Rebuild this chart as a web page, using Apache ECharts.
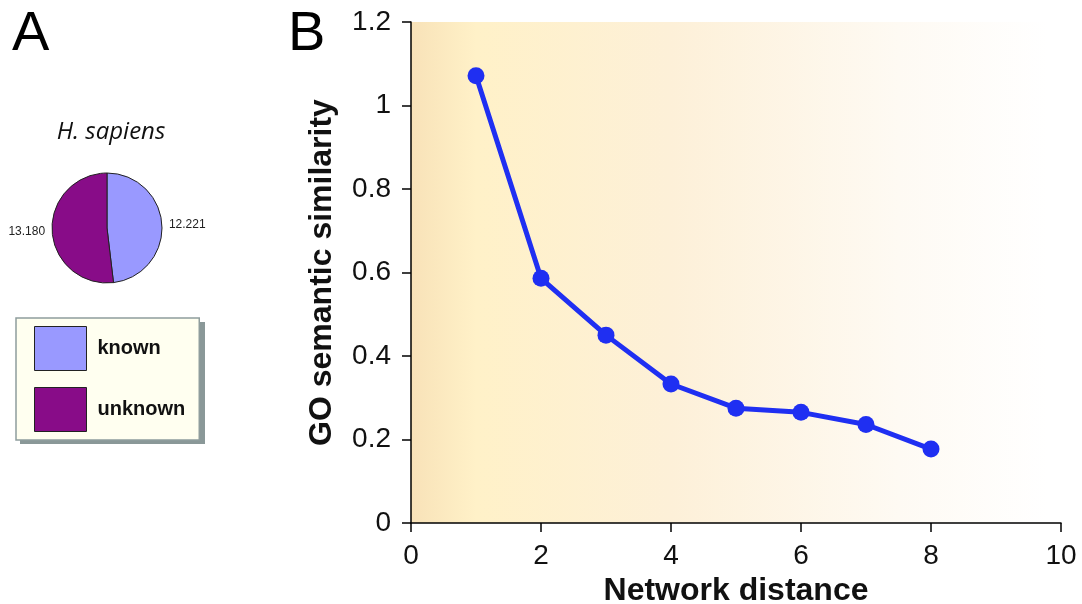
<!DOCTYPE html>
<html>
<head>
<meta charset="utf-8">
<script src="https://cdn.jsdelivr.net/npm/echarts@6/dist/echarts.min.js"></script>
<style>
  html, body { margin: 0; padding: 0; background: #fff; }
  #main { width: 1082px; height: 604px; }
</style>
</head>
<body>
<div id="main"></div>
<script>
// panel A: gene counts
var pieNames = ['known', 'unknown'];
var pieValues = [12221, 13180];
var pieColors = ['#9999FF', '#880C88'];

// panel B: similarity vs network distance
var distance = [1, 2, 3, 4, 5, 6, 7, 8];
var similarity = [1.071, 0.586, 0.450, 0.333, 0.275, 0.265, 0.236, 0.177];

var chart = echarts.init(document.getElementById('main'));

function dotThousands(v) {
  return String(v).replace(/\B(?=(\d{3})+(?!\d))/g, '.');
}

var pieData = [];
for (var i = 0; i < pieNames.length; i++) {
  pieData.push({ name: pieNames[i], value: pieValues[i], itemStyle: { color: pieColors[i] } });
}

var lineData = [];
for (var j = 0; j < distance.length; j++) {
  lineData.push([distance[j], similarity[j]]);
}

var font = '"Liberation Sans", Arial, sans-serif';

var option = {
  backgroundColor: '#fff',
  animation: false,
  title: [
    { text: 'A', left: 7, top: 2, textStyle: { fontSize: 56, fontWeight: 'normal', fontFamily: font, color: '#000' } },
    { text: 'B', left: 283, top: 2, textStyle: { fontSize: 56, fontWeight: 'normal', fontFamily: font, color: '#000' } },
    { text: 'H. sapiens', left: 106, top: 115, textAlign: 'center',
      textStyle: { fontSize: 24, fontStyle: 'italic', fontWeight: 'normal', fontFamily: '"Open Sans", sans-serif', color: '#111' } }
  ],
  // drop shadow behind the legend box
  graphic: [
    { type: 'rect', left: 20, top: 322, z: -1, shape: { width: 185, height: 122 }, style: { fill: '#8a9898' } }
  ],
  legend: {
    data: pieNames,
    orient: 'vertical',
    left: 16,
    top: 318,
    icon: 'rect',
    itemWidth: 52,
    itemHeight: 44,
    itemGap: 16,
    selectedMode: false,
    padding: [8, 14, 8, 18],
    backgroundColor: '#FFFFF0',
    borderColor: '#8f9d9d',
    borderWidth: 1.5,
    itemStyle: { borderColor: '#222', borderWidth: 1 },
    textStyle: { fontSize: 20, fontWeight: 'bold', fontFamily: font, color: '#111', padding: [0, 0, 0, 6] }
  },
  grid: {
    left: 411, right: 21, top: 22, bottom: 81,
    outerBoundsMode: 'none',
    containLabel: false,
    show: true,
    borderWidth: 0,
    backgroundColor: new echarts.graphic.LinearGradient(0, 0, 1, 0, [
      { offset: 0, color: '#F8E2B8' },
      { offset: 0.1, color: '#FFF1C8' },
      { offset: 0.4, color: '#FDF0D8' },
      { offset: 0.75, color: '#FEFAF3' },
      { offset: 0.98, color: '#FFFFFF' }
    ])
  },
  xAxis: {
    type: 'value',
    min: 0, max: 10, interval: 2,
    name: 'Network distance',
    nameLocation: 'middle',
    nameGap: 47,
    nameTextStyle: { fontSize: 32, fontWeight: 'bold', fontFamily: font, color: '#111' },
    axisLine: { onZero: false, lineStyle: { color: '#000', width: 1.5 } },
    axisTick: { length: 9, lineStyle: { color: '#000', width: 1.5 } },
    axisLabel: { fontSize: 28, fontFamily: font, color: '#111', margin: 19 },
    splitLine: { show: false }
  },
  yAxis: {
    type: 'value',
    min: 0, max: 1.2, interval: 0.2,
    name: 'GO semantic similarity',
    nameLocation: 'middle',
    nameGap: 73,
    nameTextStyle: { fontSize: 32, fontWeight: 'bold', fontFamily: font, color: '#111' },
    axisLine: { show: true, lineStyle: { color: '#000', width: 1.5 } },
    axisTick: { show: true, length: 9, lineStyle: { color: '#000', width: 1.5 } },
    axisLabel: { fontSize: 28, fontFamily: font, color: '#111', margin: 20 },
    splitLine: { show: false }
  },
  series: [
    {
      type: 'pie',
      center: [107, 228],
      radius: 55,
      startAngle: 90,
      clockwise: true,
      data: pieData,
      itemStyle: { borderColor: '#222', borderWidth: 1 },
      label: {
        show: true,
        position: 'outside',
        overflow: 'none',
        fontSize: 12,
        fontFamily: font,
        color: '#222',
        formatter: function (p) { return dotThousands(p.value); }
      },
      labelLine: { show: false, length: 2, length2: 0 },
      emphasis: { disabled: true }
    },
    {
      type: 'line',
      data: lineData,
      symbol: 'circle',
      symbolSize: 17,
      lineStyle: { color: '#1f2ff2', width: 5 },
      itemStyle: { color: '#1f2ff2' }
    }
  ]
};

chart.setOption(option);
window.addEventListener('resize', chart.resize);
</script>
</body>
</html>
